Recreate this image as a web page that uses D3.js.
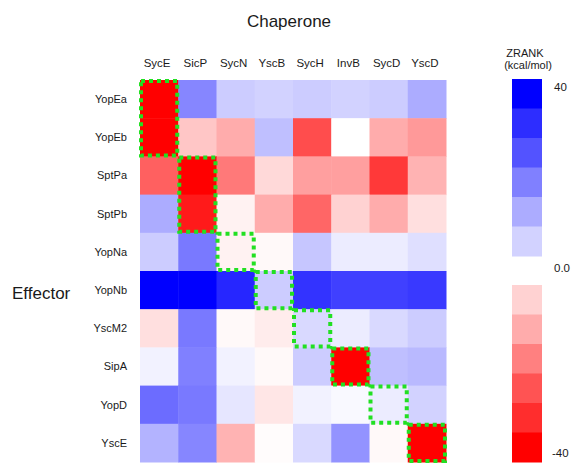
<!DOCTYPE html>
<html>
<head>
<meta charset="utf-8">
<script src="https://cdn.jsdelivr.net/npm/d3@7"></script>
<style>
  html, body { margin: 0; padding: 0; background: #fff; }
  svg { display: block; font-family: "Liberation Sans", Arial, sans-serif; }
</style>
</head>
<body>
<svg id="chart" width="576" height="464"></svg>
<script>
const chaperones = ["SycE", "SicP", "SycN", "YscB", "SycH", "InvB", "SycD", "YscD"];
const effectors = ["YopEa", "YopEb", "SptPa", "SptPb", "YopNa", "YopNb", "YscM2", "SipA", "YopD", "YscE"];

// ZRANK (kcal/mol) per effector row, in chaperone order
const rowYopEa = [-40, 19, 8, 7, 8, 7, 8, 13];
const rowYopEb = [-40, -9, -13, 10, -28, 0, -13, -16];
const rowSptPa = [-25, -40, -21, -6, -15, -15, -31, -12];
const rowSptPb = [13, -36, -2, -13, -24, -7, -13, -5];
const rowYopNa = [8, 21, -2, -1, 9, 3, 3, 5];
const rowYopNb = [40, 40, 34, 8, 32, 30, 30, 31];
const rowYscM2 = [-5, 21, -1, -3, 6, 3, 6, 8];
const rowSipA  = [2, 20, 2, -1, 8, -40, 10, 11];
const rowYopD  = [23, 21, 4, -4, 2, 1, 3, 7];
const rowYscE  = [12, 19, -12, -0.5, 6, 17, -1, -40];
const zrank = [rowYopEa, rowYopEb, rowSptPa, rowSptPb, rowYopNa, rowYopNb, rowYscM2, rowSipA, rowYopD, rowYscE];

// known cognate pairs (highlighted boxes): chaperone -> effector rows
const cognateChaperone = ["SycE", "SicP", "SycN", "YscB", "SycH", "InvB", "SycD", "YscD"];
const cognateFirst = ["YopEa", "SptPa", "YopNa", "YopNb", "YscM2", "SipA", "YopD", "YscE"];
const cognateLast  = ["YopEb", "SptPb", "YopNa", "YopNb", "YscM2", "SipA", "YopD", "YscE"];

const legendTicks = ["40", "0.0", "-40"];
const legendBlue = [40, 33, 27, 20, 13, 7];
const legendRed = [-7, -13, -20, -27, -33, -40];

const svg = d3.select("#chart");

const x = d3.scaleBand().domain(chaperones).range([140, 446]).padding(0);
const y = d3.scaleBand().domain(effectors).range([80, 462]).padding(0);

const color = v => v >= 0
  ? d3.interpolateRgb("#ffffff", "#0000ff")(Math.min(1, v / 40))
  : d3.interpolateRgb("#ffffff", "#ff0000")(Math.min(1, -v / 40));

const cells = [];
effectors.forEach((e, i) => chaperones.forEach((c, j) => cells.push({ e, c, v: zrank[i][j] })));

svg.append("g").selectAll("rect").data(cells).join("rect")
  .attr("x", d => x(d.c))
  .attr("y", d => y(d.e))
  .attr("width", x.bandwidth() + 0.5)
  .attr("height", y.bandwidth() + 0.5)
  .attr("fill", d => color(d.v));

// cognate boxes
const boxes = cognateChaperone.map((c, i) => ({ c, a: cognateFirst[i], b: cognateLast[i] }));
svg.append("g").selectAll("rect").data(boxes).join("rect")
  .attr("x", d => x(d.c) + 1)
  .attr("y", d => y(d.a) + 1)
  .attr("width", x.bandwidth() - 2)
  .attr("height", d => y(d.b) + y.bandwidth() - y(d.a) - 2)
  .attr("fill", "none")
  .attr("stroke", "#22e022")
  .attr("stroke-width", 4)
  .attr("stroke-dasharray", "4,4");

// title
svg.append("text").attr("x", 289).attr("y", 27).attr("text-anchor", "middle")
  .attr("font-size", 17).attr("fill", "#1a1a1a").text("Chaperone");

// column labels
svg.append("g").selectAll("text").data(chaperones).join("text")
  .attr("x", d => x(d) + x.bandwidth() / 2 - 2)
  .attr("y", 67)
  .attr("text-anchor", "middle")
  .attr("font-size", 11.5)
  .attr("fill", "#1a1a1a")
  .text(d => d);

// row labels
svg.append("g").selectAll("text").data(effectors).join("text")
  .attr("x", 127)
  .attr("y", d => y(d) + y.bandwidth() / 2)
  .attr("dy", "0.35em")
  .attr("text-anchor", "end")
  .attr("font-size", 11)
  .attr("fill", "#1a1a1a")
  .text(d => d);

svg.append("text").attr("x", 12).attr("y", 299)
  .attr("font-size", 17).attr("fill", "#1a1a1a").text("Effector");

// legend
const legX = 512, legW = 30;
const lyBlue = d3.scaleBand().domain(legendBlue).range([79, 256]);
const lyRed = d3.scaleBand().domain(legendRed).range([285, 462]);
svg.append("g").selectAll("rect").data(legendBlue).join("rect")
  .attr("x", legX).attr("y", d => lyBlue(d)).attr("width", legW).attr("height", lyBlue.bandwidth() + 0.5)
  .attr("fill", d => color(d));
svg.append("g").selectAll("rect").data(legendRed).join("rect")
  .attr("x", legX).attr("y", d => lyRed(d)).attr("width", legW).attr("height", lyRed.bandwidth() + 0.5)
  .attr("fill", d => color(d));

svg.append("text").attr("x", 525).attr("y", 57).attr("text-anchor", "middle")
  .attr("font-size", 11).attr("fill", "#1a1a1a").text("ZRANK");
svg.append("text").attr("x", 528).attr("y", 69).attr("text-anchor", "middle")
  .attr("font-size", 11).attr("fill", "#1a1a1a").text("(kcal/mol)");

const tickY = [87, 268, 453];
svg.append("g").selectAll("text").data(legendTicks).join("text")
  .attr("x", (d, i) => i === 2 ? 552 : 554)
  .attr("y", (d, i) => tickY[i])
  .attr("dy", "0.35em")
  .attr("font-size", 11.5)
  .attr("fill", "#1a1a1a")
  .text(d => d);
</script>
</body>
</html>
